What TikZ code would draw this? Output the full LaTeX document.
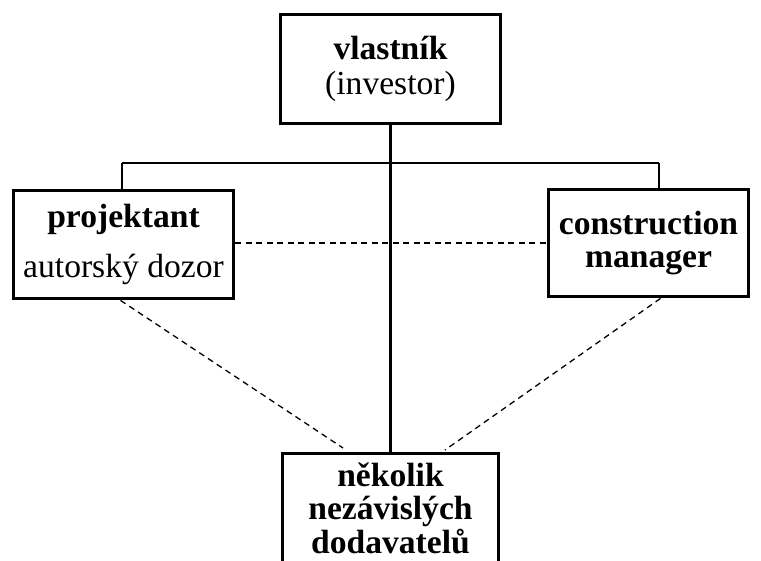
\documentclass[tikz,border=0pt]{standalone}
\usepackage{fontspec}
\setmainfont{Liberation Serif}
\begin{document}
\begin{tikzpicture}[x=1pt,y=-1pt,
  box/.style={draw, line width=3.8pt, align=center, inner sep=0pt,
    font=\fontsize{33.6}{33.5}\selectfont},
  link/.style={line width=2.2pt},
  weak/.style={line width=1.3pt, dash pattern=on 6pt off 4.5pt}]
\useasboundingbox (0,0) rectangle (761,561);
\clip (0,0) rectangle (761,561);
\fill[white] (0,0) rectangle (761,561);

% parties
\node[box, minimum width=220pt, minimum height=109pt] (inv) at (390.5,69)
  {\textbf{vlastník}\\[2pt](investor)};
\node[box, minimum width=220pt, minimum height=108pt] (proj) at (123.5,244.5)
  {\textbf{projektant}\\[16pt]autorský dozor};
\node[box, minimum width=200pt, minimum height=107pt] (cm) at (648.5,243)
  {\textbf{construction}\\\textbf{manager}};
\node[box, minimum width=216pt, minimum height=109pt] (sup) at (390.5,508)
  {\textbf{několik}\\\textbf{nezávislých}\\\textbf{dodavatelů}};

% contractual links
\coordinate (hl) at (122,163);
\coordinate (hr) at (659,163);
\draw[link] (inv.south) -- (sup.north);
\draw[link] (hl) -- (hr);
\draw[link] (hl) -- (hl |- proj.north);
\draw[link] (hr) -- (hr |- cm.north);

% coordination links
\coordinate (dl) at (343,448);
\coordinate (dr) at (445,450);
\draw[weak] (proj.east |- 0,243) -- (cm.west |- 0,243);
\draw[weak] ([xshift=-3pt]proj.south) -- (dl);
\draw[weak] ([xshift=12pt]cm.south) -- (dr);
\end{tikzpicture}
\end{document}
